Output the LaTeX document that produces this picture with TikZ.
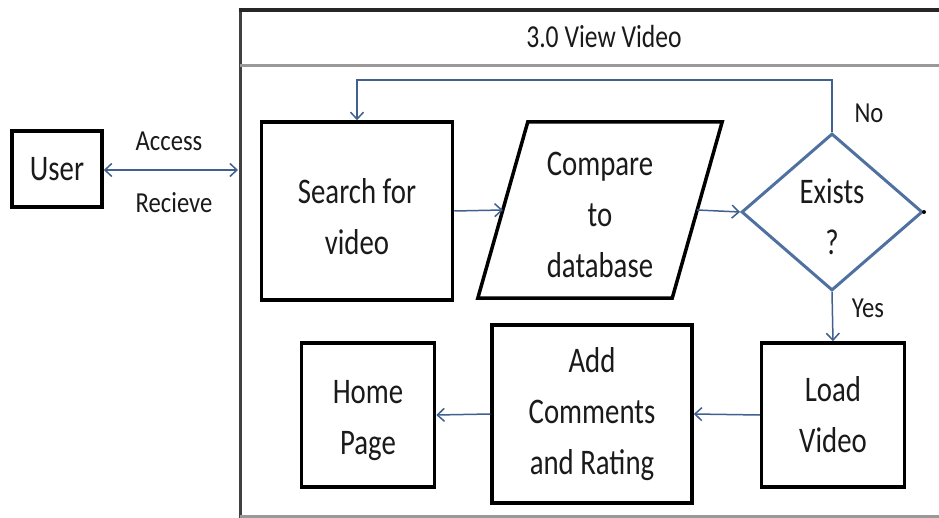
\documentclass[tikz,border=0pt]{standalone}
\usepackage{fontspec}
\setmainfont{Carlito}
\newfontfamily\bigfont{Carlito}[FakeStretch=0.8]
\newfontfamily\smallfont{Carlito}[FakeStretch=0.85]
\usetikzlibrary{arrows.meta,shapes.geometric}
\definecolor{conncol}{HTML}{41608F}
\definecolor{diacol}{HTML}{4F71A0}
\definecolor{txtcol}{HTML}{1A1A1A}
\tikzset{
  bigtext/.style={text=txtcol,align=center,font=\bigfont\fontsize{36}{51}\selectfont},
  boxnode/.style={draw=black,line width=3.5pt,rectangle,inner sep=0pt,bigtext},
  plainlabel/.style={inner sep=0pt,text=txtcol,font=\smallfont\fontsize{29}{32}\selectfont},
  conn/.style={draw=conncol,line width=1.5pt},
  tipend/.style={-{Straight Barb[length=7pt,width=13pt]}},
  tipboth/.style={{Straight Barb[length=7pt,width=13pt]}-{Straight Barb[length=7pt,width=13pt]}},
  decision/.style={diamond,draw=diacol,line width=3pt,inner sep=0pt,bigtext},
}
\begin{document}
\begin{tikzpicture}[x=1pt,y=-1pt]
\useasboundingbox (0,0) rectangle (939,518);
% frame
\draw[line width=3pt,color=black!75] (240,518) -- (240,10);
\draw[line width=4pt,color=black!85] (238.5,10) -- (939,10);
\draw[line width=3pt,color=black!40] (240,66) -- (939,66);
\draw[line width=2.5pt,color=black!40] (240,516.5) -- (939,516.5);
\node[plainlabel,font=\bigfont\fontsize{32}{36}\selectfont] (title) at (604,37) {3.0 View Video};
% nodes
\node[boxnode,minimum width=90pt,minimum height=76pt] (user) at (57,169) {User};
\node[boxnode,minimum width=191pt,minimum height=178pt] (search) at (357,211) {\rule{0pt}{36pt}Search for\\video};
\node[inner sep=0pt,minimum width=194pt,minimum height=176pt,bigtext] (compare) at (600,210) {\rule{0pt}{34pt}Compare\\to\\database};
\draw[line width=3.5pt,line join=miter,color=black]
  ([xshift=25pt]compare.north west) -- ([xshift=25pt]compare.north east)
  -- ([xshift=-25pt]compare.south east) -- ([xshift=-25pt]compare.south west) -- cycle;
\node[decision,minimum width=181pt,minimum height=157pt] (exists) at (832,212) {\rule{0pt}{34pt}Exists\\?};
\node[boxnode,minimum width=143pt,minimum height=144pt] (load) at (833,415) {Load\\Video};
\node[boxnode,minimum width=200pt,minimum height=178pt] (add) at (592,414) {Add\\Comments\\and Rating};
\node[boxnode,minimum width=133pt,minimum height=144pt] (home) at (368,415) {\rule{0pt}{34pt}Home\\Page};
% labels
\node[plainlabel] (access) at (169,141) {Access};
\node[plainlabel] (recieve) at (174,203) {Recieve};
\node[plainlabel] (no) at (869,113) {No};
\node[plainlabel] (yes) at (868,308) {Yes};
% connectors
\coordinate (frameleft) at (238,170);
\coordinate (looptop) at (832,80);
\draw[conn,tipboth] (user.east |- frameleft) -- (frameleft);
\draw[conn,tipend] (search.east) -- (compare.west);
\draw[conn,tipend] (compare.east) -- (exists.west);
\draw[conn,tipend] (exists.north) -- (looptop) -| (search.north);
\draw[conn,tipend] (exists.south) -- (load.north);
\draw[conn,tipend] (load.west) -- (add.east);
\draw[conn,tipend] (add.west) -- (home.east);
\fill[black] (exists.east) circle (2pt);
\end{tikzpicture}
\end{document}
